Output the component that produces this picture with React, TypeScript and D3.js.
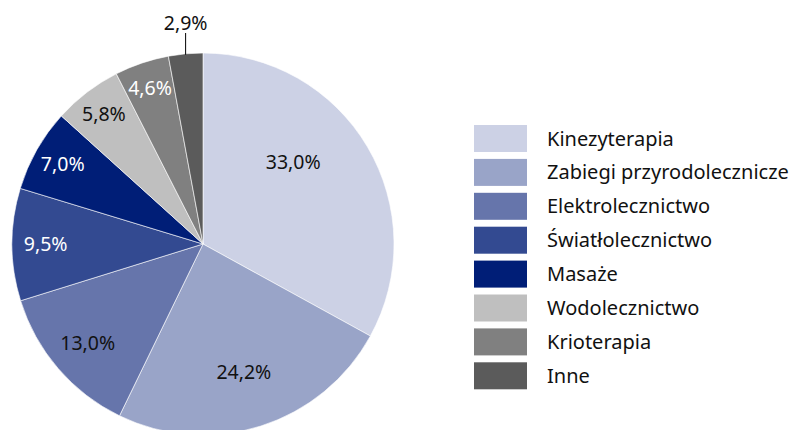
import React from 'react';
import * as d3 from 'd3';

const categories = [
  'Kinezyterapia',
  'Zabiegi przyrodolecznicze',
  'Elektrolecznictwo',
  'Światłolecznictwo',
  'Masaże',
  'Wodolecznictwo',
  'Krioterapia',
  'Inne',
];
const shares = [33.0, 24.2, 13.0, 9.5, 7.0, 5.8, 4.6, 2.9];
const colors = ['#ccd1e5', '#99a4c8', '#6675ab', '#334a91', '#001e77', '#bfbfbf', '#808080', '#5b5b5b'];
const labelColors = ['#111111', '#111111', '#111111', '#ffffff', '#ffffff', '#111111', '#ffffff', '#111111'];

const W = 798, H = 430;
const FONT = "'Noto Sans', sans-serif";

export default function App() {
  const cx = 203, cy = 244, r = 191;

  const pie = d3.pie<number>().sort(null).value(d => d);
  const arcs = pie(shares);
  const arc = d3.arc<d3.PieArcDatum<number>>().innerRadius(0).outerRadius(r);

  const fmt = (v: number) => v.toFixed(1).replace('.', ',') + '%';

  // legend layout
  const legX = 474, legY = 125, rowH = 33.9, swW = 53, swH = 27;

  return (
    <div style={{ position: 'fixed', left: 0, top: 0 }}>
      <svg width={W} height={H} style={{ display: 'block', background: '#fff' }} fontFamily={FONT}>
        <g transform={`translate(${cx},${cy})`}>
          {arcs.map((a, i) => (
            <path key={i} d={arc(a) || ''} fill={colors[i]} stroke="#ffffff" strokeWidth={0.6} />
          ))}
          {arcs.map((a, i) => {
            const mid = (a.startAngle + a.endAngle) / 2;
            const share = shares[i] / 100;
            if (share < 0.04) {
              // outside label with leader line
              const x = Math.sin(mid) * r;
              return (
                <g key={'l' + i}>
                  <line x1={x} x2={x} y1={-Math.cos(mid) * r + 1} y2={-r - 20} stroke="#000" strokeWidth={1} />
                  <text x={x} y={-r - 23} textAnchor="middle" fontSize={19.5} fill="#111">{fmt(shares[i])}</text>
                </g>
              );
            }
            const lr = r * (0.9 - 0.8 * share);
            const ang = share > 0.3 ? mid - 0.2 : mid;
            const x = Math.sin(ang) * lr;
            const y = -Math.cos(ang) * lr;
            return (
              <text key={'l' + i} x={x} y={y} dy="0.35em" textAnchor="middle" fontSize={19.5} fill={labelColors[i]}>
                {fmt(shares[i])}
              </text>
            );
          })}
        </g>
        <g>
          {categories.map((c, i) => (
            <g key={c} transform={`translate(${legX},${legY + i * rowH})`}>
              <rect width={swW} height={swH} fill={colors[i]} />
              <text x={73} y={swH / 2} dy="0.35em" fontSize={20} fill="#111">{c}</text>
            </g>
          ))}
        </g>
      </svg>
    </div>
  );
}
